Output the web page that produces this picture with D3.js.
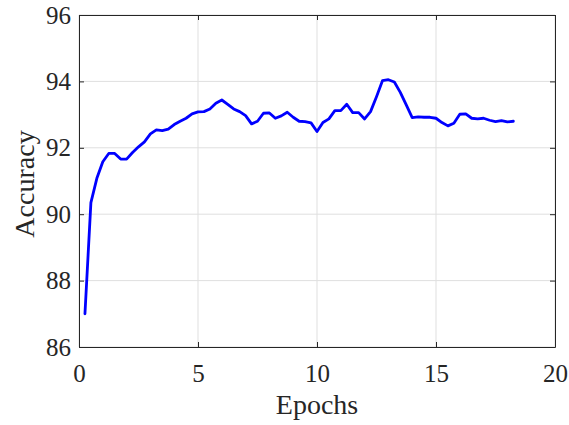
<!DOCTYPE html>
<html>
<head>
<meta charset="utf-8">
<script src="https://cdn.jsdelivr.net/npm/d3@7"></script>
<style>
  body { margin: 0; background: #fff; }
</style>
</head>
<body>
<svg></svg>
<script>
// Data
let epochs = [
  0.25, 0.5, 0.75, 1, 1.25, 1.5, 1.75, 2, 2.25, 2.5, 2.75, 3, 3.25, 3.5, 3.75, 4,
  4.25, 4.5, 4.75, 5, 5.25, 5.5, 5.75, 6, 6.25, 6.5, 6.75, 7, 7.25, 7.5, 7.75, 8,
  8.25, 8.5, 8.75, 9, 9.25, 9.5, 9.75, 10, 10.25, 10.5, 10.75, 11, 11.25, 11.5, 11.75, 12,
  12.25, 12.5, 12.75, 13, 13.25, 13.5, 13.75, 14, 14.25, 14.5, 14.75, 15, 15.25, 15.5, 15.75, 16,
  16.25, 16.5, 16.75, 17, 17.25, 17.5, 17.75, 18, 18.25
];
let accuracy = [
  87.0, 90.35, 91.08, 91.58, 91.83, 91.83, 91.66, 91.66, 91.86, 92.03, 92.18, 92.42, 92.54, 92.52, 92.56, 92.70,
  92.80, 92.89, 93.02, 93.08, 93.09, 93.17, 93.34, 93.44, 93.31, 93.17, 93.09, 92.97, 92.72, 92.80, 93.04, 93.05,
  92.89, 92.96, 93.07, 92.92, 92.80, 92.79, 92.75, 92.49, 92.76, 92.87, 93.12, 93.12, 93.31, 93.06, 93.06, 92.87,
  93.09, 93.54, 94.02, 94.05, 93.98, 93.67, 93.29, 92.91, 92.93, 92.92, 92.92, 92.89, 92.76, 92.66, 92.74, 93.01,
  93.02, 92.89, 92.87, 92.89, 92.83, 92.79, 92.82, 92.78, 92.80
];
let xTicks = [0, 5, 10, 15, 20];
let yTicks = [86, 88, 90, 92, 94, 96];

// SVG Dimensions
let width = 569, height = 425;
let plotLeft = 79, plotRight = 555, plotTop = 15, plotBottom = 347;
let serif = '"Liberation Serif", "Times New Roman", serif';

let svg = d3.select('svg').attr('width', width).attr('height', height);

let xScale = d3.scaleLinear().domain([0, 20]).range([plotLeft, plotRight]);
let yScale = d3.scaleLinear().domain([86, 96]).range([plotBottom, plotTop]);

// Grid lines
let grid = svg.append('g').attr('stroke', '#dfdfdf').attr('stroke-width', 1);
grid.selectAll('.gx').data(xTicks).enter().append('line')
  .attr('x1', d => xScale(d)).attr('x2', d => xScale(d))
  .attr('y1', plotTop).attr('y2', plotBottom);
grid.selectAll('.gy').data(yTicks).enter().append('line')
  .attr('x1', plotLeft).attr('x2', plotRight)
  .attr('y1', d => yScale(d)).attr('y2', d => yScale(d));

// Axes (ticks inward, box all round)
let axisColor = '#262626';
function styleAxis(g, showText) {
  g.attr('font-family', serif).attr('font-size', 25);
  g.select('.domain').attr('stroke', axisColor).attr('stroke-width', 1);
  g.selectAll('.tick line').attr('stroke', axisColor);
  g.selectAll('.tick text').attr('fill', axisColor);
  if (!showText) g.selectAll('.tick text').remove();
}

svg.append('g')
  .attr('transform', `translate(0, ${plotBottom})`)
  .call(d3.axisBottom(xScale).tickValues(xTicks).tickSizeInner(-5).tickSizeOuter(0).tickPadding(17))
  .call(g => styleAxis(g, true));

svg.append('g')
  .attr('transform', `translate(0, ${plotTop})`)
  .call(d3.axisTop(xScale).tickValues(xTicks).tickSizeInner(-5).tickSizeOuter(0))
  .call(g => styleAxis(g, false));

svg.append('g')
  .attr('transform', `translate(${plotLeft}, 0)`)
  .call(d3.axisLeft(yScale).tickValues(yTicks).tickSizeInner(-5).tickSizeOuter(0).tickPadding(8))
  .call(g => styleAxis(g, true));

svg.append('g')
  .attr('transform', `translate(${plotRight}, 0)`)
  .call(d3.axisRight(yScale).tickValues(yTicks).tickSizeInner(-5).tickSizeOuter(0))
  .call(g => styleAxis(g, false));

// Line
let points = epochs.map((e, i) => [e, accuracy[i]]);
let line = d3.line().x(d => xScale(d[0])).y(d => yScale(d[1]));
svg.append('path')
  .datum(points)
  .attr('d', line)
  .attr('fill', 'none')
  .attr('stroke', '#0000ff')
  .attr('stroke-width', 2.8)
  .attr('stroke-linejoin', 'round')
  .attr('stroke-linecap', 'round');

// Axis labels
svg.append('text')
  .attr('x', (plotLeft + plotRight) / 2)
  .attr('y', 414)
  .attr('text-anchor', 'middle')
  .attr('font-family', serif)
  .attr('font-size', 28)
  .attr('fill', axisColor)
  .text('Epochs');

svg.append('text')
  .attr('transform', `translate(34, 184) rotate(-90)`)
  .attr('text-anchor', 'middle')
  .attr('font-family', serif)
  .attr('font-size', 28)
  .attr('fill', axisColor)
  .text('Accuracy');
</script>
</body>
</html>
